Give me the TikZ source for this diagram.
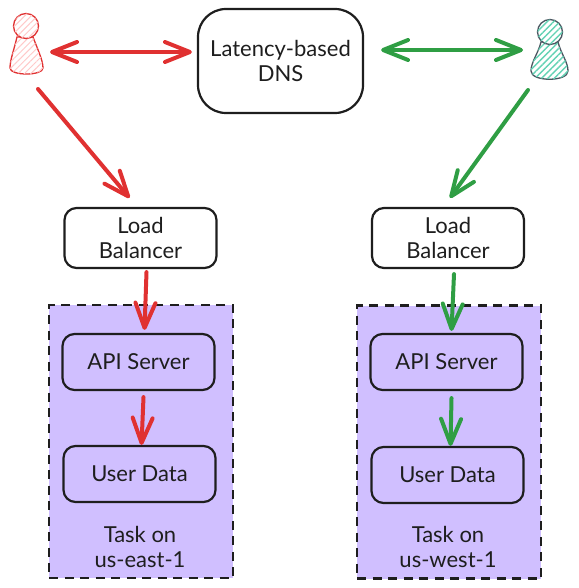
\documentclass[tikz,border=0pt]{standalone}
\usepackage{xcolor}
\usepackage{fontspec}
\setmainfont{Lato}
\usepackage{tikz}
\usetikzlibrary{arrows.meta,patterns.meta}
\definecolor{arrowred}{HTML}{E03131}
\definecolor{arrowgreen}{HTML}{2F9E44}
\definecolor{taskfill}{HTML}{D0BFFF}
\definecolor{inkblack}{HTML}{1E1E1E}
\definecolor{hatchred}{HTML}{FFC9C9}
\definecolor{hatchgreen}{HTML}{63D2B4}
\definecolor{inkgrey}{HTML}{4A5560}
\tikzset{
  every node/.style={font=\fontsize{22}{25}\selectfont, text=inkblack, align=center},
  box/.style={draw=inkblack, line width=2.2pt, rounded corners=12, inner sep=0pt, minimum width=152, minimum height=56},
  lbbox/.style={box, fill=white, minimum height=60},
  dnsbox/.style={box, fill=white, rounded corners=28, minimum width=165, minimum height=104},
  taskbox/.style={draw=inkblack, line width=2.4pt, dash pattern=on 9pt off 6.5pt, fill=taskfill, inner sep=0pt, minimum width=184, minimum height=273},
  link/.style={line width=4pt, line cap=round, -{Straight Barb[round, length=25pt, width=20pt]}},
  twoway/.style={line width=4pt, line cap=round, {Straight Barb[round, length=25pt, width=20pt]}-{Straight Barb[round, length=25pt, width=20pt]}},
  personred/.style={draw=arrowred, line width=1.3pt, fill=white, postaction={pattern={Lines[angle=45, distance=4.5pt, line width=1pt]}, pattern color=hatchred}},
  persongreen/.style={draw=inkgrey, line width=1.3pt, fill=white, postaction={pattern={Lines[angle=45, distance=4.5pt, line width=1.4pt]}, pattern color=hatchgreen}},
}
\begin{document}
\begin{tikzpicture}[x=1pt, y=-1pt]
  \useasboundingbox (0,0) rectangle (578,588);
  % task boxes
  \node[taskbox] (taskeast) at (141,441.5) {};
  \node[taskbox] (taskwest) at (449,442) {};
  \node (tasklabeleast) at (140,547) {Task on\\us-east-1};
  \node (tasklabelwest) at (448,547) {Task on\\us-west-1};
  % dns
  \node[dnsbox] (dns) at (280.5,61) {Latency-based\\DNS};
  % load balancers
  \node[lbbox] (lbeast) at (140.5,238) {Load\\Balancer};
  \node[lbbox] (lbwest) at (448,238) {Load\\Balancer};
  % api servers
  \node[box] (apieast) at (138.5,362) {API Server};
  \node[box] (apiwest) at (446.5,362) {API Server};
  % user data
  \node[box] (dataeast) at (139.5,474) {User Data};
  \node[box] (datawest) at (447.5,475) {User Data};
  % red person
  \draw[personred] (17,37) .. controls (14,50) and (10,60) .. (10,68) .. controls (10,76) and (43,76) .. (43,68) .. controls (43,60) and (37,48) .. (33,37) -- cycle;
  \draw[personred] (26,26) circle (12.5);
  \coordinate (usereast) at (26,52);
  % green person
  \draw[persongreen] (541,42) .. controls (538,54) and (531,62) .. (531,71) .. controls (531,82) and (568,82) .. (568,71) .. controls (568,62) and (561,54) .. (558,42) -- cycle;
  \draw[persongreen] (550,32) circle (12.5);
  \coordinate (userwest) at (550,50);
  % red arrows
  \draw[twoway, arrowred] ([xshift=24]usereast) -- ([xshift=-5]dns.west |- usereast);
  \draw[link, arrowred] ([xshift=12,yshift=-37]usereast) -- ([xshift=-11,yshift=9]lbeast.north);
  \draw[link, arrowred] ([xshift=6,yshift=-3]lbeast.south) -- ([xshift=6,yshift=3]apieast.north);
  \draw[link, arrowred] ([xshift=5,yshift=-6]apieast.south) -- ([xshift=2,yshift=0]dataeast.north);
  % green arrows
  \draw[twoway, arrowgreen] ([xshift=-27]userwest) -- ([xshift=17]dns.east |- userwest);
  \draw[link, arrowgreen] ([xshift=-22,yshift=-40]userwest) -- ([xshift=2,yshift=9]lbwest.north);
  \draw[link, arrowgreen] ([xshift=6,yshift=-5]lbwest.south) -- ([xshift=5,yshift=2]apiwest.north);
  \draw[link, arrowgreen] ([xshift=5,yshift=-7]apiwest.south) -- ([xshift=3,yshift=0]datawest.north);
\end{tikzpicture}
\end{document}
